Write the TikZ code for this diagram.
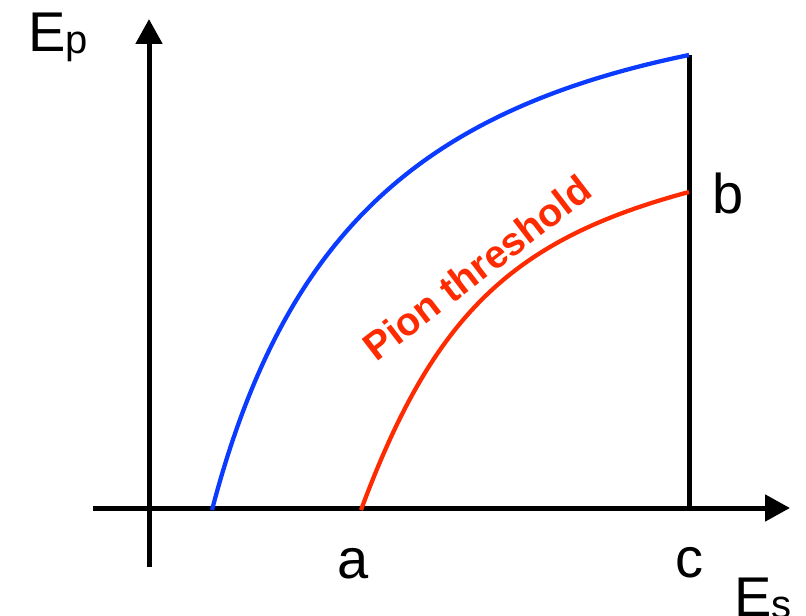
\documentclass[tikz,border=0pt]{standalone}
\usepackage{fontspec}
\setmainfont{Liberation Sans}
\usepackage{tikz}
\usetikzlibrary{arrows.meta}
\definecolor{plBlue}{HTML}{0A3BFF}
\definecolor{plRed}{HTML}{FF2B00}
\newcommand{\lowsub}[2][1pt]{\raisebox{-#1}{\fontsize{30}{34}\selectfont #2}}
\tikzset{
  axis/.style={line width=3.75pt, draw=black, -{Triangle[length=18.75pt,width=19.5pt]}},
  bound/.style={line width=3.75pt, draw=black},
  curveblue/.style={line width=3.2pt, draw=plBlue},
  curvered/.style={line width=3.2pt, draw=plRed},
  lbl/.style={inner sep=0pt, font=\fontsize{42}{48}\selectfont, text=black},
  thresh/.style={inner sep=0pt, font=\fontsize{29.5}{33}\selectfont\bfseries, text=plRed}
}
\begin{document}
\begin{tikzpicture}[x=0.75pt,y=0.75pt]
  \useasboundingbox (0,0) rectangle (806,615);
  % axes
  \coordinate (xstart) at (93,107);
  \coordinate (xtip) at (790,107);
  \coordinate (ystart) at (149,48);
  \coordinate (ytip) at (149,596);
  \draw[axis] (xstart) -- (xtip);
  \draw[axis] (ystart) -- (ytip);

  % upper bound at c
  \coordinate (cfoot) at (689,107);
  \coordinate (ctop) at (689,560);
  \draw[bound] (cfoot) -- (ctop);

  % curves
  \coordinate (bluestart) at (212,105);
  \coordinate (redstart) at (361,105);
  \coordinate (redend) at (689,423);
  \draw[curveblue] (bluestart) .. controls (285,384) and (423,505) .. (ctop);
  \draw[curvered] (redstart) .. controls (434,302) and (514,376) .. (redend);
  \node[thresh, anchor=base west, rotate=37.5] (pion) at (376,252) {Pion threshold};

  % labels
  \node[lbl, anchor=base west] (ep) at (28,563) {E\lowsub{p}};
  \node[lbl, anchor=base west] (es) at (734,-1) {E\lowsub[2pt]{s}};
  \node[lbl, anchor=base] (la) at (353,37) {a};
  \node[lbl, anchor=base] (lb) at (728,402) {b};
  \node[lbl, anchor=base] (lc) at (689,38) {c};
\end{tikzpicture}
\end{document}
